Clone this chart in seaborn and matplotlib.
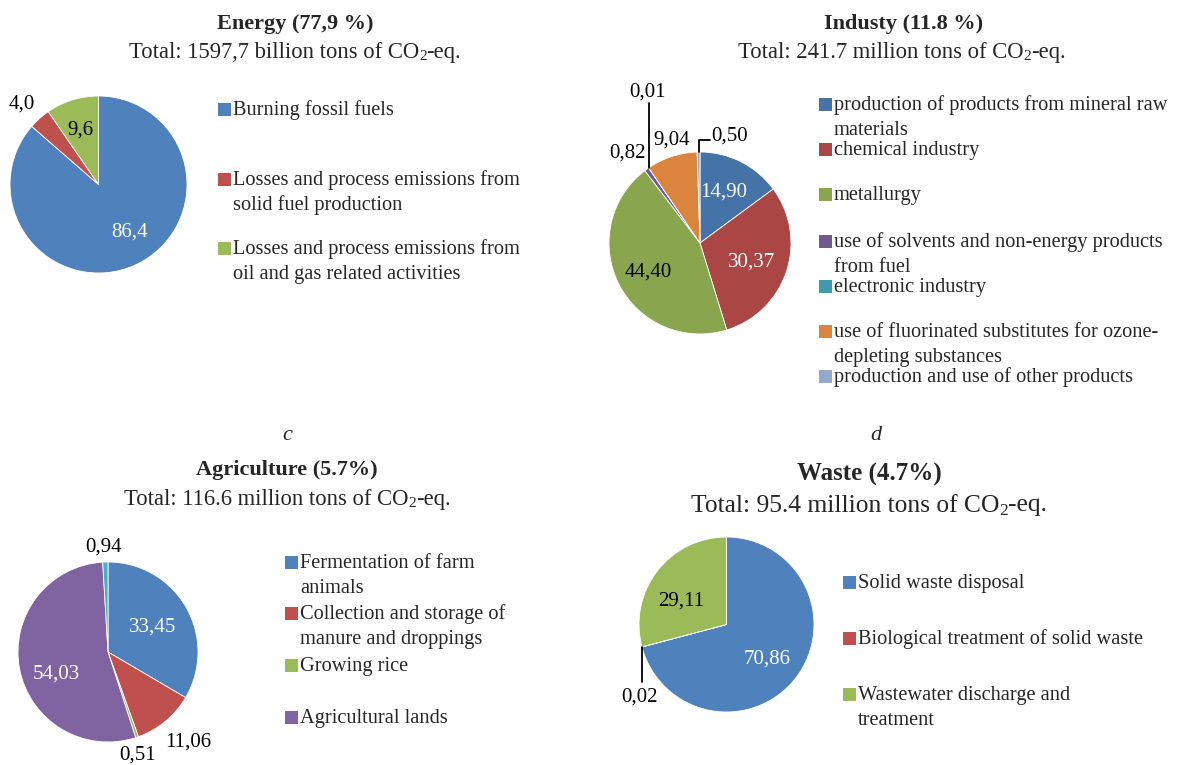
import numpy as np
import matplotlib
matplotlib.use("Agg")
import matplotlib.pyplot as plt
import seaborn as sns
from matplotlib.transforms import Affine2D
from matplotlib.patches import Rectangle
from matplotlib.lines import Line2D

# ---------------- data ----------------
energy_categories = [
    "Burning fossil fuels",
    "Losses and process emissions from\nsolid fuel production",
    "Losses and process emissions from\noil and gas related activities",
]
energy_values = [86.4, 4.0, 9.6]

industry_categories = [
    "production of products from mineral raw\nmaterials",
    "chemical industry",
    "metallurgy",
    "use of solvents and non-energy products\nfrom fuel",
    "electronic industry",
    "use of fluorinated substitutes for ozone-\ndepleting substances",
    "production and use of other products",
]
industry_values = [14.90, 30.37, 44.40, 0.82, 0.01, 9.04, 0.50]

agriculture_categories = [
    "Fermentation of farm\nanimals",
    "Collection and storage of\nmanure and droppings",
    "Growing rice",
    "Agricultural lands",
]
agriculture_values = [33.45, 11.06, 0.51, 54.03, 0.94]

waste_categories = [
    "Solid waste disposal",
    "Biological treatment of solid waste",
    "Wastewater discharge and\ntreatment",
]
waste_values = [70.86, 0.02, 29.11]

# ---------------- style ----------------
sns.set_theme(style="white")
plt.rcParams["font.family"] = ["Liberation Serif", "DejaVu Serif"]

office_colors = sns.color_palette(["#4F81BD", "#C0504D", "#9BBB59", "#8064A2", "#4BACC6"])
industry_colors = sns.color_palette(["#4572A7", "#AA4643", "#89A54E", "#71588F",
                                     "#4198AF", "#DB843D", "#93A9CF"])

TITLE = 16
SUBTITLE = 16.3
LEG = 14.7
VAL = 15

W, H = 1184, 765
fig = plt.figure(figsize=(W / 100, H / 100), dpi=100)
fig.patch.set_facecolor("white")
PX = Affine2D().scale(1, -1).translate(0, H)  # top-left pixel coordinates


def text(x, y, s, size, **kw):
    kw.setdefault("ha", "center")
    kw.setdefault("va", "center_baseline")
    return fig.text(x, y, s, fontsize=size, transform=PX, **kw)


def subtitle(x, y, head, size):
    """'Total: ... CO' followed by a lowered, smaller '2' and '-eq.'"""
    t1 = fig.text(0, 0, head + "CO", fontsize=size, transform=PX,
                  ha="left", va="center_baseline")
    t2 = fig.text(0, 0, "2", fontsize=size * 0.68, transform=PX,
                  ha="left", va="center_baseline")
    t3 = fig.text(0, 0, "-eq.", fontsize=size, transform=PX,
                  ha="left", va="center_baseline")
    r = fig.canvas.get_renderer()
    w1 = t1.get_window_extent(r).width
    w2 = t2.get_window_extent(r).width
    w3 = t3.get_window_extent(r).width
    x0 = x - (w1 + w2 + w3) / 2
    t1.set_position((x0, y))
    t2.set_position((x0 + w1, y + size * 0.33))
    t3.set_position((x0 + w1 + w2, y))


def fmt(v, nd):
    return f"{v:.{nd}f}".replace(".", ",")


def draw_pie(cx, cy, r, values, colors):
    ax = fig.add_axes([(cx - r) / W, 1 - (cy + r) / H, 2 * r / W, 2 * r / H])
    ax.pie(values, colors=colors, startangle=90, counterclock=False, radius=1,
           wedgeprops=dict(edgecolor="white", linewidth=0.6))
    ax.set_xlim(-1, 1)
    ax.set_ylim(-1, 1)
    ax.axis("off")
    return ax


def edge_point(cx, cy, r, values, idx):
    total = float(np.sum(values))
    before = float(np.sum(values[:idx])) + values[idx] / 2
    ang = np.deg2rad(90 - 360 * before / total)
    return cx + r * np.cos(ang), cy - r * np.sin(ang)


def leader(points):
    xs, ys = zip(*points)
    fig.add_artist(Line2D(xs, ys, color="black", lw=1.3, transform=PX))


def legend(x_marker, items, colors, y_lines, size, box=13):
    for lab, col, ys in zip(items, colors, y_lines):
        fig.add_artist(Rectangle((x_marker, ys[0] - box / 2 + 1), box, box,
                                 facecolor=col, edgecolor="none", transform=PX))
        for line, y in zip(lab.split("\n"), ys):
            text(x_marker + box + 2, y, line, size, ha="left")


# ---------------- Energy ----------------
text(295, 21, "Energy (77,9 %)", TITLE, fontweight="bold")
subtitle(295, 50, "Total: 1597,7 billion tons of ", SUBTITLE)
draw_pie(98.5, 184.5, 88.5, energy_values, office_colors[:3])
e_pos = [(130, 230, "white"), (22, 102, "black"), (80, 128, "black")]
for v, (x, y, c) in zip(energy_values, e_pos):
    text(x, y, fmt(v, 1), VAL, color=c)
legend(218, energy_categories, office_colors[:3],
       [(108,), (178, 203), (247, 272)], LEG)

# ---------------- Industry ----------------
text(904, 21, "Industy (11.8 %)", TITLE, fontweight="bold")
subtitle(902, 50, "Total: 241.7 million tons of ", SUBTITLE)
icx, icy, ir = 700, 243, 91
draw_pie(icx, icy, ir, industry_values, industry_colors)
i_pos = [(724, 190, "white"), (752, 260, "white"), (648, 270, "black"),
         (627, 151, "black"), (648, 90, "black"), (672, 138, "black"),
         (730, 134, "black")]
for v, (x, y, c) in zip(industry_values, i_pos):
    text(x, y, fmt(v, 2), VAL, color=c)
px_, py_ = edge_point(icx, icy, ir, industry_values, 4)
leader([(px_, py_), (px_, 103)])
px_, py_ = edge_point(icx, icy, ir, industry_values, 6)
leader([(px_, py_), (px_, 140), (710, 140)])
legend(819, industry_categories, industry_colors,
       [(103, 128), (148,), (193,), (240, 265), (285,), (330, 355), (375,)], LEG)

# ---------------- Agriculture ----------------
text(287, 433, "c", TITLE, fontstyle="italic")
text(287, 468, "Agriculture (5.7%)", TITLE, fontweight="bold")
subtitle(287, 497, "Total: 116.6 million tons of ", SUBTITLE)
draw_pie(108, 652, 90, agriculture_values, office_colors[:5])
a_pos = [(153, 625, "white"), (188, 740, "black"), (138, 753, "black"),
         (56, 672, "white"), (104, 545, "black")]
for v, (x, y, c) in zip(agriculture_values, a_pos):
    text(x, y, fmt(v, 2), VAL, color=c)
legend(285, agriculture_categories, office_colors[:4],
       [(561, 586), (612, 637), (664,), (716,)], LEG)

# ---------------- Waste ----------------
text(876, 433, "d", TITLE, fontstyle="italic")
text(869, 472, "Waste (4.7%)", 18, fontweight="bold")
subtitle(869, 503, "Total: 95.4 million tons of ", 18.4)
wcx, wcy, wr = 726.5, 624.5, 87.5
draw_pie(wcx, wcy, wr, waste_values, office_colors[:3])
w_pos = [(767, 657, "white"), (640, 695, "black"), (681, 599, "black")]
for v, (x, y, c) in zip(waste_values, w_pos):
    text(x, y, fmt(v, 2), VAL, color=c)
px_, py_ = edge_point(wcx, wcy, wr, waste_values, 1)
leader([(px_, py_), (px_, 682)])
legend(843, waste_categories, office_colors[:3],
       [(581,), (637,), (693, 718)], LEG)

fig.savefig("out.png", dpi=100, facecolor="white")
